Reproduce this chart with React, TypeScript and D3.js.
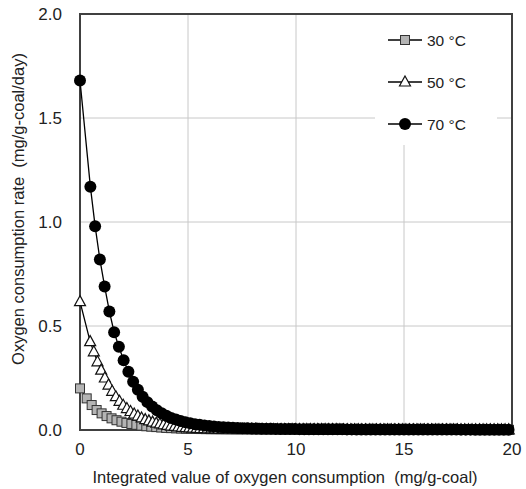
import React, { useEffect, useRef } from 'react';
import * as d3 from 'd3';

const xTicks = [0, 5, 10, 15, 20];
const yTicks = [0, 0.5, 1.0, 1.5, 2.0];
const legendLabels = ['30 °C', '50 °C', '70 °C'];

// each series: value at x=0, then evenly spaced readings from xStart with step
const first30 = 0.2;
const xStart30 = 0.31;
const step30 = 0.23;
const rate30 = [
  0.152, 0.12, 0.096, 0.08, 0.067, 0.056, 0.047, 0.04, 0.034, 0.029,
  0.025, 0.021, 0.018, 0.016, 0.014, 0.012, 0.01, 0.009, 0.008, 0.007,
  0.006, 0.0055, 0.005, 0.0046, 0.0042, 0.004, 0.0038, 0.0036, 0.0034, 0.0032,
  0.003, 0.0029, 0.0028, 0.0027, 0.0026, 0.0025, 0.0024, 0.0023, 0.0022, 0.0021,
  0.002, 0.002, 0.0019, 0.0019, 0.0018, 0.0018, 0.0017, 0.0017, 0.0016, 0.0016,
  0.0015, 0.0015, 0.0015, 0.0014, 0.0014, 0.0014, 0.0013, 0.0013, 0.0013, 0.0012,
  0.0012, 0.0012, 0.0012, 0.0011, 0.0011, 0.0011, 0.0011, 0.001, 0.001, 0.001,
  0.001, 0.001, 0.001, 0.0009, 0.0009, 0.0009, 0.0009, 0.0009, 0.0009, 0.0008,
  0.0008, 0.0008, 0.0008, 0.0008, 0.0008, 0.0008,
];

const first50 = 0.617;
const xStart50 = 0.47;
const step50 = 0.17;
const rate50 = [
  0.425, 0.376, 0.328, 0.288, 0.25, 0.216, 0.186, 0.16, 0.138, 0.119,
  0.103, 0.089, 0.077, 0.067, 0.058, 0.05, 0.044, 0.038, 0.033, 0.029,
  0.025, 0.022, 0.019, 0.017, 0.015, 0.013, 0.011, 0.01, 0.009, 0.008,
  0.007, 0.0065, 0.006, 0.0056, 0.0052, 0.0049, 0.0046, 0.0043, 0.0041, 0.0039,
  0.0037, 0.0035, 0.0034, 0.0033, 0.0032, 0.0031, 0.003, 0.0029, 0.0028, 0.0027,
  0.0026, 0.0026, 0.0025, 0.0025, 0.0024, 0.0024, 0.0023, 0.0023, 0.0022, 0.0022,
  0.0021, 0.0021, 0.002, 0.002, 0.002, 0.0019, 0.0019, 0.0019, 0.0018, 0.0018,
  0.0018, 0.0017, 0.0017, 0.0017, 0.0016, 0.0016, 0.0016, 0.0016, 0.0015, 0.0015,
  0.0015, 0.0015, 0.0014, 0.0014, 0.0014, 0.0014, 0.0013, 0.0013, 0.0013, 0.0013,
  0.0013, 0.0012, 0.0012, 0.0012, 0.0012, 0.0012, 0.0011, 0.0011, 0.0011, 0.0011,
  0.0011, 0.0011, 0.001, 0.001, 0.001, 0.001, 0.001, 0.001, 0.001, 0.001,
  0.001, 0.001, 0.001, 0.001, 0.001,
];

const first70 = 1.68;
const xStart70 = 0.48;
const step70 = 0.22;
const rate70 = [
  1.17, 0.98, 0.82, 0.69, 0.57, 0.47, 0.4, 0.335, 0.28, 0.232,
  0.193, 0.16, 0.134, 0.113, 0.095, 0.08, 0.068, 0.058, 0.05, 0.043,
  0.037, 0.032, 0.028, 0.025, 0.022, 0.019, 0.017, 0.015, 0.013, 0.012,
  0.011, 0.01, 0.009, 0.008, 0.0075, 0.007, 0.0065, 0.006, 0.0057, 0.0054,
  0.0051, 0.0048, 0.0046, 0.0044, 0.0042, 0.004, 0.0038, 0.0037, 0.0036, 0.0035,
  0.0034, 0.0033, 0.0032, 0.0031, 0.003, 0.003, 0.0029, 0.0028, 0.0028, 0.0027,
  0.0026, 0.0026, 0.0025, 0.0025, 0.0024, 0.0024, 0.0023, 0.0023, 0.0022, 0.0022,
  0.0021, 0.0021, 0.002, 0.002, 0.002, 0.0019, 0.0019, 0.0019, 0.0018, 0.0018,
  0.0018, 0.0017, 0.0017, 0.0017, 0.0016, 0.0016, 0.0016, 0.0015, 0.0015,
];

type Pt = { x: number; y: number };

const toPoints = (first: number, x0: number, step: number, vals: number[]): Pt[] =>
  [{ x: 0, y: first }, ...vals.map((v, i) => ({ x: x0 + i * step, y: v }))];

const FONT = '"Liberation Sans", Arial, sans-serif';

export default function App() {
  const svgRef = useRef<SVGSVGElement>(null);

  useEffect(() => {
    const width = 526;
    const height = 489;
    const m = { left: 80, right: 14, top: 14, bottom: 59 };

    const svg = d3.select(svgRef.current);
    svg.selectAll('*').remove();

    const x = d3.scaleLinear().domain([0, 20]).range([m.left, width - m.right]);
    const y = d3.scaleLinear().domain([0, 2]).range([height - m.bottom, m.top]);

    // grid
    const grid = svg.append('g');
    grid.selectAll('line.v')
      .data(xTicks.slice(1, -1))
      .enter().append('line')
      .attr('x1', d => x(d)).attr('x2', d => x(d))
      .attr('y1', y(0)).attr('y2', y(2))
      .attr('stroke', '#c8c8c8').attr('stroke-width', 1);
    grid.selectAll('line.h')
      .data(yTicks.slice(1, -1))
      .enter().append('line')
      .attr('x1', x(0)).attr('x2', x(20))
      .attr('y1', d => y(d)).attr('y2', d => y(d))
      .attr('stroke', '#c8c8c8').attr('stroke-width', 1);

    // legend background hides the grid behind it
    svg.append('rect')
      .attr('x', 375).attr('y', y(2) + 1)
      .attr('width', 122).attr('height', 130)
      .attr('fill', 'white');

    // frame
    svg.append('rect')
      .attr('x', x(0)).attr('y', y(2))
      .attr('width', x(20) - x(0)).attr('height', y(0) - y(2))
      .attr('fill', 'none').attr('stroke', '#404040').attr('stroke-width', 2);

    const line = d3.line<Pt>().x(d => x(d.x)).y(d => y(d.y));

    const series = [
      { pts: toPoints(first30, xStart30, step30, rate30), shape: 'square' },
      { pts: toPoints(first50, xStart50, step50, rate50), shape: 'triangle' },
      { pts: toPoints(first70, xStart70, step70, rate70), shape: 'circle' },
    ];

    const drawMarker = (g: any, shape: string, cx: number, cy: number) => {
      if (shape === 'square') {
        g.append('rect')
          .attr('x', cx - 4.5).attr('y', cy - 4.5).attr('width', 9).attr('height', 9)
          .attr('fill', '#b4b4b4').attr('stroke', '#333').attr('stroke-width', 1);
      } else if (shape === 'triangle') {
        g.append('path')
          .attr('d', `M${cx},${cy - 6}L${cx + 5.5},${cy + 4}L${cx - 5.5},${cy + 4}Z`)
          .attr('fill', 'white').attr('stroke', '#111').attr('stroke-width', 1.2);
      } else {
        g.append('circle')
          .attr('cx', cx).attr('cy', cy).attr('r', 6)
          .attr('fill', '#000');
      }
    };

    series.forEach(s => {
      const g = svg.append('g');
      g.append('path')
        .datum(s.pts)
        .attr('d', line)
        .attr('fill', 'none').attr('stroke', '#000').attr('stroke-width', 1.3);
      s.pts.forEach(p => drawMarker(g, s.shape, x(p.x), y(p.y)));
    });

    // legend
    const leg = svg.append('g');
    series.forEach((s, i) => {
      const ly = 40 + i * 42;
      leg.append('line')
        .attr('x1', 388).attr('x2', 422).attr('y1', ly).attr('y2', ly)
        .attr('stroke', '#000').attr('stroke-width', 1.3);
      drawMarker(leg, s.shape, 405, ly);
      leg.append('text')
        .attr('x', 427).attr('y', ly + 5.5)
        .attr('font-family', FONT).attr('font-size', 15.5).attr('fill', '#222')
        .text(legendLabels[i]);
    });

    // tick labels
    svg.append('g').selectAll('text')
      .data(yTicks)
      .enter().append('text')
      .attr('x', 62).attr('y', d => y(d) + 6)
      .attr('text-anchor', 'end')
      .attr('font-family', FONT).attr('font-size', 17).attr('fill', '#222')
      .text(d => d.toFixed(1));
    svg.append('g').selectAll('text')
      .data(xTicks)
      .enter().append('text')
      .attr('x', d => x(d)).attr('y', 455)
      .attr('text-anchor', 'middle')
      .attr('font-family', FONT).attr('font-size', 17).attr('fill', '#222')
      .text(d => String(d));

    // axis titles
    svg.append('text')
      .attr('x', 285).attr('y', 483)
      .attr('text-anchor', 'middle')
      .attr('font-family', FONT).attr('font-size', 16.5).attr('fill', '#222')
      .text('Integrated value of oxygen consumption\u00a0\u00a0(mg/g-coal)');
    svg.append('text')
      .attr('transform', `translate(24,${209}) rotate(-90)`)
      .attr('text-anchor', 'middle')
      .attr('font-family', FONT).attr('font-size', 16.5).attr('fill', '#222')
      .text('Oxygen consumption rate\u00a0\u00a0(mg/g-coal/day)');
  }, []);

  return (
    <div style={{ position: 'absolute', left: 0, top: 0 }}>
      <svg ref={svgRef} width={526} height={489} style={{ display: 'block', background: 'white' }} />
    </div>
  );
}
